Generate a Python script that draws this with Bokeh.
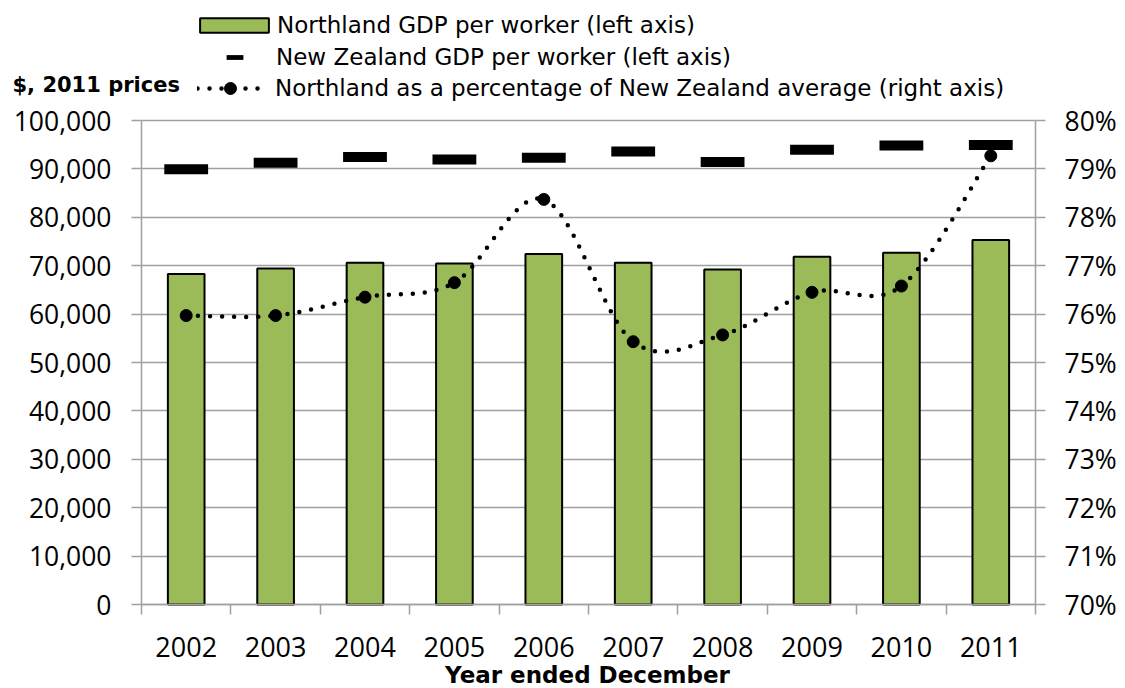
from bokeh.plotting import figure
from bokeh.models import (Range1d, LinearAxis, FixedTicker, NumeralTickFormatter,
                          PrintfTickFormatter, Legend, LegendItem, Label, Grid)
from bokeh.embed import file_html
from bokeh.resources import INLINE

years = [2002, 2003, 2004, 2005, 2006, 2007, 2008, 2009, 2010, 2011]
year_labels = [str(y) for y in years]
northland_gdp = [68300, 69400, 70600, 70450, 72400, 70600, 69200, 71850, 72650, 75300]
nz_gdp = [89950, 91250, 92450, 91950, 92300, 93600, 91450, 93950, 94850, 94950]
pct_of_nz = [75.97, 75.97, 76.35, 76.65, 78.37, 75.43, 75.57, 76.45, 76.58, 79.27]
gdp_ticks = list(range(0, 100001, 10000))
pct_ticks = list(range(70, 81))

FONT = "Open Sans"
LFONT = "DejaVu Sans"
GRID = "#a0a0a0"
W, H = 1125, 688
# plot-area layout in pixels (left, right, top, bottom of the axes box)
PL, PR, PT, PB = 141, 1035, 120, 604

x_lo, x_hi = years[0] - 0.5, years[-1] + 0.5
g_lo, g_hi = gdp_ticks[0], gdp_ticks[-1]
q_lo, q_hi = pct_ticks[0], pct_ticks[-1]
xs = (x_hi - x_lo) / (PR - PL)
gs = (g_hi - g_lo) / (PB - PT)
qs = (q_hi - q_lo) / (PB - PT)

p = figure(width=W, height=H, output_backend="svg", toolbar_location=None,
           x_range=Range1d(x_lo - PL * xs, x_hi + (W - PR) * xs),
           y_range=Range1d(g_lo - (H - PB) * gs, g_hi + PT * gs),
           min_border=0, x_axis_type=None, y_axis_type=None)
p.outline_line_color = None
p.extra_y_ranges = {"pct": Range1d(q_lo - (H - PB) * qs, q_hi + PT * qs)}

# grid
grid = Grid(dimension=1, ticker=FixedTicker(ticks=gdp_ticks),
            cross_bounds=(x_lo, x_hi), grid_line_color=GRID, grid_line_width=1.5)
p.add_layout(grid)

def style_axis(ax, size):
    ax.major_tick_in = 0
    ax.minor_tick_in = 0
    ax.minor_tick_out = 0
    ax.major_tick_line_color = GRID
    ax.major_tick_line_width = 1.5
    ax.axis_line_color = GRID
    ax.axis_line_width = 1.5
    ax.major_label_text_font = FONT
    ax.major_label_text_font_size = size
    ax.major_label_text_color = "black"

# x axis: ticks between categories, labels at category centres
xaxis = LinearAxis(ticker=FixedTicker(ticks=years,
                                      minor_ticks=[y - 0.5 for y in years] + [x_hi]),
                   fixed_location=g_lo, bounds=(x_lo, x_hi))
style_axis(xaxis, "27px")
xaxis.major_label_overrides = {y: s for y, s in zip(years, year_labels)}
xaxis.major_tick_out = 0
xaxis.minor_tick_out = 10
xaxis.minor_tick_line_color = GRID
xaxis.minor_tick_line_width = 1.5
xaxis.major_label_standoff = 22
p.add_layout(xaxis, "below")

yaxis = LinearAxis(ticker=FixedTicker(ticks=gdp_ticks),
                   formatter=NumeralTickFormatter(format="0,0"),
                   fixed_location=x_lo, bounds=(g_lo, g_hi))
style_axis(yaxis, "26.5px")
yaxis.major_tick_out = 10
yaxis.major_label_standoff = 20
p.add_layout(yaxis, "left")

raxis = LinearAxis(y_range_name="pct", ticker=FixedTicker(ticks=pct_ticks),
                   formatter=PrintfTickFormatter(format="%d%%"),
                   fixed_location=x_hi, bounds=(q_lo, q_hi))
style_axis(raxis, "26.5px")
raxis.major_tick_out = 10
raxis.major_label_standoff = 19
p.add_layout(raxis, "right")

# bars
bars = p.vbar(x=years, top=northland_gdp, width=0.41, bottom=0,
              fill_color="#9BBB59", line_color="black", line_width=2)

# NZ dashes
dashes = p.rect(x=years, y=nz_gdp, width=0.49, height=10, height_units="screen",
                fill_color="black", line_color="black", line_width=0)

# smoothed percentage line (Bezier segments through the data points)
n = len(years)
x0s, y0s, x1s, y1s, cx0s, cy0s, cx1s, cy1s = [], [], [], [], [], [], [], []
for i in range(n - 1):
    xa, ya = years[i], pct_of_nz[i]
    xb, yb = years[i + 1], pct_of_nz[i + 1]
    xp, yp = (years[i - 1], pct_of_nz[i - 1]) if i > 0 else (xa, ya)
    xn, yn = (years[i + 2], pct_of_nz[i + 2]) if i + 2 < n else (xb, yb)
    x0s.append(xa); y0s.append(ya); x1s.append(xb); y1s.append(yb)
    cx0s.append(xa + (xb - xp) / 6); cy0s.append(ya + (yb - yp) / 6)
    cx1s.append(xb - (xn - xa) / 6); cy1s.append(yb - (yn - ya) / 6)

bez = p.bezier(x0=x0s, y0=y0s, x1=x1s, y1=y1s, cx0=cx0s, cy0=cy0s, cx1=cx1s, cy1=cy1s,
               y_range_name="pct", line_color="black", line_width=4.5,
               line_dash="0 12", line_cap="round")
pts = p.scatter(x=years, y=pct_of_nz, size=12, marker="circle", fill_color="black",
                line_color="black", y_range_name="pct")

# legends (one per entry, so that each key has its own glyph size)
def make_legend(item, loc, gw, gh, standoff):
    lg = Legend(items=[item], location=loc, glyph_width=gw, glyph_height=gh,
                label_standoff=standoff, padding=0, margin=0, spacing=0,
                border_line_color=None, background_fill_alpha=0,
                label_text_font=LFONT, label_text_font_size="23px",
                label_text_color="black", label_height=gh)
    p.add_layout(lg, "center")

make_legend(LegendItem(label="Northland GDP per worker (left axis)", renderers=[bars]),
            (191, H - 38), 86, 18, 0)
make_legend(LegendItem(label="New Zealand GDP per worker (left axis)", renderers=[dashes]),
            (224, H - 70), 21, 6, 31)
make_legend(LegendItem(label="Northland as a percentage of New Zealand average (right axis)",
                       renderers=[bez, pts]),
            (197, H - 103), 66, 30, 12)

p.add_layout(Label(x=12, y=H - 84, x_units="screen", y_units="screen",
                   text="$, 2011 prices", text_font=LFONT, text_font_style="bold",
                   text_font_size="21px", text_color="black", text_baseline="middle"))
p.add_layout(Label(x=587, y=H - 674, x_units="screen", y_units="screen",
                   text="Year ended December", text_font=LFONT, text_font_style="bold",
                   text_font_size="23px", text_color="black", text_align="center",
                   text_baseline="middle"))

open("out.html", "w").write(file_html(p, INLINE))
